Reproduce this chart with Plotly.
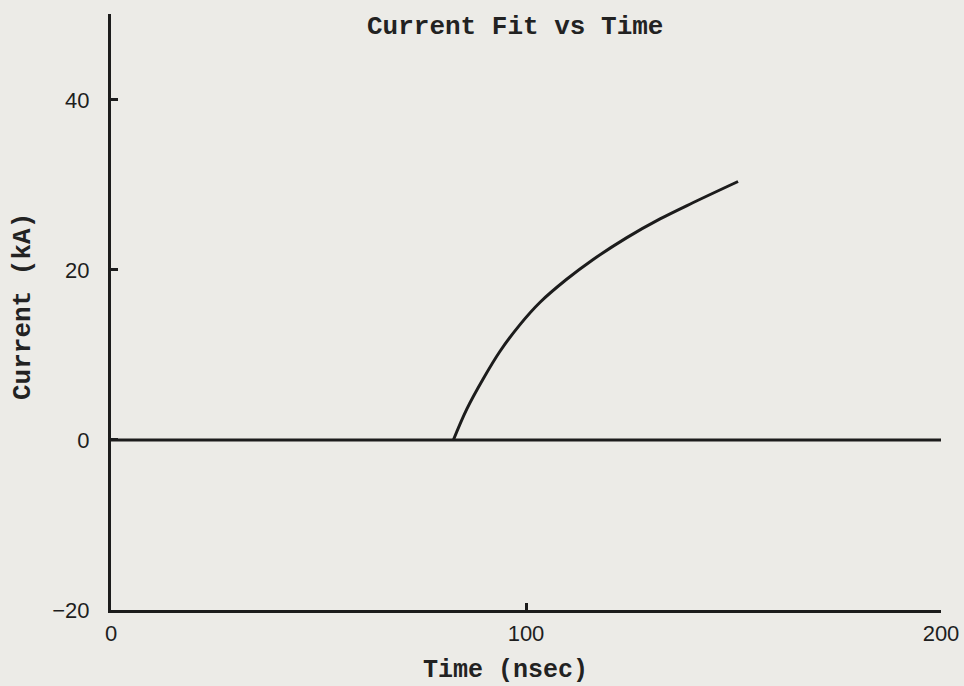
import plotly.graph_objects as go

# Fitted current waveform (time in ns, current in kA)
time_fit = [82.5, 85.7, 89.7, 93.7, 98.6, 103.4, 109.8, 116.1, 124.3, 132.3, 140.2, 151.1]
current_fit = [0.0, 3.6, 7.2, 10.4, 13.6, 16.2, 18.9, 21.2, 23.8, 26.0, 27.9, 30.4]

# Zero-current reference line across the full time window
baseline_time = [0, 200]
baseline_current = [0, 0]

x_ticks = [0, 100, 200]
y_ticks = [-20, 0, 20, 40]

W, H = 964, 686
L, R, T, B = 111, 23, 14, 76
PW, PH = W - L - R, H - T - B

INK = "#1c1c1c"
PAPER = "#ecebe7"
MONO = "Liberation Mono, DejaVu Sans Mono, monospace"
SANS = "Liberation Sans, Arial, sans-serif"


def px_to_paper(px, py):
    return (px - L) / PW, 1 - (py - T) / PH


fig = go.Figure()
fig.add_trace(go.Scatter(x=baseline_time, y=baseline_current, mode="lines",
                         line=dict(color=INK, width=3), hoverinfo="skip"))
fig.add_trace(go.Scatter(x=time_fit, y=current_fit, mode="lines",
                         line=dict(color=INK, width=3, shape="spline", smoothing=1.0)))

ax_common = dict(showgrid=False, zeroline=False, showline=True, linecolor=INK,
                 linewidth=3, ticks="inside", ticklen=7, tickwidth=2.5, tickcolor=INK,
                 automargin=False,
                 tickfont=dict(family=SANS, size=22, color="#1e1e1e"))

fig.update_xaxes(range=[0, 200], tickvals=x_ticks, ticklabelstandoff=2, **ax_common)
fig.update_yaxes(range=[-20, 50.1], tickvals=y_ticks, ticklabelstandoff=14, **ax_common)

annots = [
    ("Current Fit vs Time", 515, 27, 0, 26),
    ("Time (nsec)", 505, 670, 0, 25),
    ("Current (kA)", 23, 307, -90, 26),
]
for text, px, py, ang, size in annots:
    ax_, ay_ = px_to_paper(px, py)
    fig.add_annotation(text=f"<b>{text}</b>", x=ax_, y=ay_, xref="paper", yref="paper",
                       showarrow=False, textangle=ang, xanchor="center", yanchor="middle",
                       font=dict(family=MONO, size=size, color="#222"))

fig.update_layout(width=W, height=H, margin=dict(l=L, r=R, t=T, b=B),
                  paper_bgcolor=PAPER, plot_bgcolor=PAPER, showlegend=False)

fig.write_html("out.html")
